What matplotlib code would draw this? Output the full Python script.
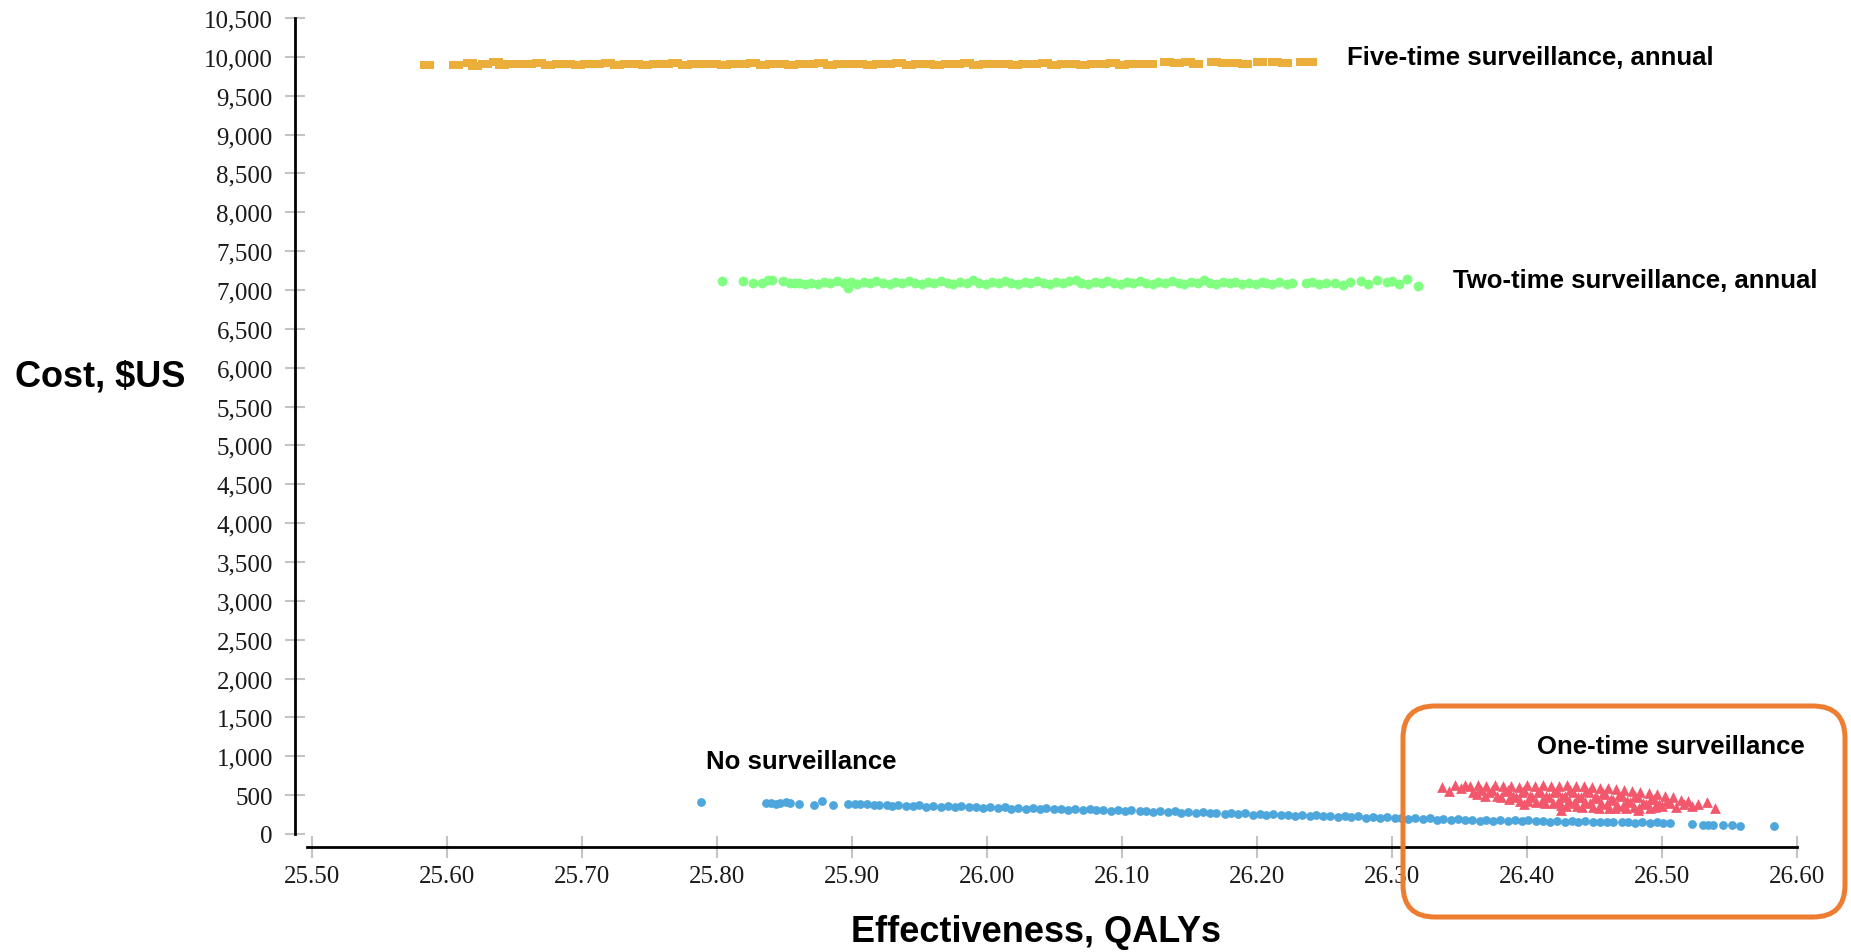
import matplotlib
matplotlib.use("Agg")
import matplotlib.pyplot as plt
from matplotlib.patches import FancyBboxPatch
from matplotlib.transforms import IdentityTransform
from matplotlib.ticker import FuncFormatter

# Puntos (QALYs, costo en $US)
five_x = [25.585, 25.607, 25.617, 25.621, 25.628, 25.636, 25.641, 25.646,
          25.654, 25.661, 25.668, 25.675, 25.683, 25.690, 25.697, 25.704, 25.711, 25.719,
          25.726, 25.733, 25.740, 25.747, 25.755, 25.762, 25.769, 25.776, 25.783, 25.791,
          25.798, 25.805, 25.812, 25.819, 25.827, 25.834, 25.841, 25.848, 25.855, 25.863,
          25.870, 25.877, 25.884, 25.891, 25.899, 25.906, 25.913, 25.920, 25.927, 25.935,
          25.942, 25.949, 25.956, 25.963, 25.971, 25.978, 25.985, 25.992, 25.999, 26.007,
          26.014, 26.021, 26.028, 26.035, 26.043, 26.050, 26.057, 26.064, 26.071, 26.079,
          26.086, 26.093, 26.100, 26.107, 26.115, 26.121,
          26.133, 26.141, 26.149, 26.155, 26.168, 26.176, 26.184, 26.191, 26.202, 26.213,
          26.221, 26.234, 26.239]
five_y = [9900, 9900, 9925, 9880, 9905, 9930, 9890, 9905,
          9910, 9905, 9915, 9900, 9910, 9905, 9898, 9912, 9905, 9915,
          9900, 9910, 9905, 9898, 9912, 9905, 9915, 9900, 9910, 9905,
          9912, 9900, 9910, 9905, 9915, 9900, 9910, 9905, 9898, 9912,
          9905, 9915, 9900, 9910, 9905, 9912, 9900, 9910, 9905, 9915,
          9900, 9910, 9905, 9898, 9912, 9905, 9915, 9900, 9910, 9905,
          9912, 9900, 9910, 9905, 9915, 9900, 9910, 9905, 9898, 9912,
          9905, 9915, 9900, 9910, 9905, 9912,
          9930, 9925, 9930, 9910, 9930, 9925, 9915, 9905, 9930, 9930,
          9925, 9930, 9930]

two_x = [25.804, 25.819, 25.827, 25.833, 25.838, 25.841, 25.849, 25.854, 25.858, 25.861,
         25.865, 25.870, 25.875, 25.879, 25.884, 25.889, 25.894, 25.897, 25.899, 25.904,
         25.909, 25.913, 25.918, 25.923, 25.928, 25.932, 25.937, 25.942, 25.947, 25.952,
         25.956, 25.961, 25.966, 25.971, 25.975, 25.980, 25.985, 25.990, 25.994, 25.999,
         26.004, 26.009, 26.013, 26.018, 26.023, 26.028, 26.032, 26.037, 26.042, 26.047,
         26.051, 26.056, 26.061, 26.066, 26.070, 26.075, 26.080, 26.085, 26.089, 26.094,
         26.099, 26.104, 26.108, 26.113, 26.118, 26.123, 26.127, 26.132, 26.137, 26.142,
         26.146, 26.151, 26.156, 26.161, 26.165, 26.170, 26.175, 26.180, 26.184, 26.189,
         26.194, 26.199, 26.204, 26.207,
         26.211, 26.216, 26.222, 26.226, 26.236, 26.241, 26.246, 26.251, 26.258, 26.264,
         26.269, 26.277, 26.282, 26.289, 26.296, 26.300, 26.305, 26.311, 26.319]
two_y = [7120, 7120, 7090, 7090, 7130, 7130, 7120, 7085, 7085, 7085,
         7075, 7095, 7080, 7105, 7085, 7110, 7090, 7030, 7100, 7080,
         7105, 7085, 7110, 7090, 7075, 7100, 7085, 7110, 7090, 7080,
         7105, 7085, 7110, 7090, 7075, 7100, 7085, 7130, 7095, 7080,
         7105, 7085, 7120, 7090, 7075, 7100, 7085, 7110, 7090, 7080,
         7105, 7085, 7110, 7130, 7090, 7080, 7105, 7085, 7110, 7090,
         7075, 7100, 7085, 7110, 7090, 7080, 7105, 7085, 7120, 7090,
         7075, 7100, 7085, 7130, 7090, 7080, 7105, 7085, 7100, 7075,
         7095, 7080, 7100, 7085,
         7080, 7100, 7075, 7090, 7085, 7105, 7075, 7095, 7090, 7070,
         7100, 7120, 7078, 7135, 7100, 7120, 7078, 7140, 7056]

none_x = [25.788, 25.836, 25.840, 25.844, 25.847, 25.851, 25.854, 25.861, 25.872, 25.878,
          25.886, 25.897, 25.902, 25.906, 25.911, 25.916, 25.920, 25.926, 25.930, 25.934,
          25.940, 25.945, 25.950, 25.955, 25.960, 25.966, 25.971, 25.976, 25.981, 25.987,
          25.992, 25.997, 26.002, 26.008, 26.013, 26.018, 26.023, 26.029, 26.034, 26.039,
          26.044, 26.050, 26.055, 26.060, 26.065, 26.071, 26.076, 26.081, 26.086, 26.092,
          26.097, 26.102, 26.107, 26.113, 26.118, 26.123, 26.128, 26.134, 26.139, 26.144,
          26.149, 26.155, 26.160, 26.165, 26.170, 26.176, 26.181, 26.186, 26.191, 26.197,
          26.202, 26.207, 26.212, 26.218, 26.223, 26.228, 26.233, 26.239, 26.244, 26.249,
          26.254, 26.260, 26.265, 26.270, 26.275, 26.281, 26.286, 26.291, 26.296, 26.302,
          26.307, 26.312, 26.317, 26.323, 26.328, 26.333, 26.338, 26.344, 26.349, 26.354,
          26.359, 26.365, 26.370, 26.375, 26.380, 26.386, 26.391, 26.396, 26.401, 26.407,
          26.412, 26.417, 26.422, 26.428, 26.433, 26.438, 26.443, 26.449, 26.454, 26.459,
          26.464, 26.470, 26.475, 26.480, 26.485, 26.491, 26.496, 26.501, 26.506,
          26.522, 26.530, 26.534, 26.538, 26.545, 26.552, 26.558, 26.583]
none_y = [408, 405, 395, 385, 398, 410, 400, 390, 373, 420,
          373, 385, 392, 380, 385, 375, 370, 375, 365, 370,
          364, 358, 368, 352, 362, 350, 358, 345, 355, 342,
          350, 338, 346, 332, 342, 328, 338, 322, 334, 318,
          330, 316, 326, 312, 322, 306, 318, 304, 314, 298,
          308, 294, 304, 290, 300, 284, 296, 280, 290, 276,
          286, 270, 280, 266, 274, 258, 270, 254, 264, 250,
          260, 246, 256, 240, 250, 236, 246, 232, 242, 226,
          236, 222, 232, 216, 226, 210, 220, 206, 214, 200,
          210, 196, 204, 190, 200, 186, 196, 182, 190, 176,
          186, 172, 182, 168, 176, 164, 174, 168, 176, 164,
          172, 160, 168, 158, 165, 154, 162, 152, 160, 150,
          157, 148, 155, 145, 152, 142, 149, 138, 145,
          125, 118, 122, 115, 112, 110, 108, 103]

one_x = [26.358, 26.360,
         26.364, 26.366, 26.363,
         26.370, 26.372, 26.369,
         26.376, 26.374, 26.378,
         26.382, 26.384, 26.381,
         26.388, 26.386, 26.390, 26.387,
         26.394, 26.396, 26.392, 26.395,
         26.400, 26.398, 26.402, 26.401,
         26.406, 26.408, 26.404, 26.407,
         26.412, 26.410, 26.414, 26.411, 26.413,
         26.418, 26.420, 26.416, 26.419,
         26.424, 26.422, 26.426, 26.423, 26.425,
         26.430, 26.432, 26.428, 26.431, 26.429,
         26.436, 26.434, 26.438, 26.435, 26.437,
         26.442, 26.444, 26.440, 26.443, 26.441,
         26.448, 26.446, 26.450, 26.447, 26.449,
         26.454, 26.456, 26.452, 26.455, 26.453,
         26.460, 26.458, 26.462, 26.459, 26.461,
         26.466, 26.468, 26.464, 26.467, 26.465,
         26.472, 26.470, 26.474, 26.471, 26.473,
         26.478, 26.480, 26.476, 26.479,
         26.484, 26.482, 26.486, 26.483,
         26.490, 26.492, 26.488, 26.491,
         26.496, 26.494, 26.498, 26.495,
         26.502, 26.504, 26.500,
         26.508, 26.506, 26.510,
         26.514, 26.516,
         26.337, 26.342, 26.347, 26.351, 26.354, 26.398, 26.425, 26.482,
         26.522, 26.527, 26.533, 26.539, 26.519]
one_y = [618, 545,
         625, 560, 510,
         612, 540, 495,
         628, 565, 490,
         615, 548, 478,
         622, 560, 495, 450,
         610, 540, 470, 430,
         625, 560, 490, 425,
         615, 545, 475, 410,
         628, 555, 485, 420, 395,
         612, 540, 470, 400,
         620, 550, 480, 410, 370,
         630, 560, 490, 420, 365,
         615, 545, 475, 405, 355,
         622, 552, 482, 412, 350,
         610, 540, 470, 400, 345,
         598, 530, 460, 395, 340,
         590, 520, 450, 385, 335,
         575, 505, 440, 375, 332,
         565, 495, 430, 365, 330,
         555, 485, 415, 345,
         540, 470, 405, 335,
         525, 455, 390, 338,
         510, 445, 380, 342,
         495, 430, 365,
         470, 400, 350,
         440, 380,
         601, 557, 630, 598, 632, 386, 313, 310,
         355, 390, 411, 330, 425]

x_ticks = [25.50, 25.60, 25.70, 25.80, 25.90, 26.00, 26.10, 26.20, 26.30, 26.40, 26.50, 26.60]
y_ticks = list(range(0, 10501, 500))

etiquetas = [("Five-time surveillance, annual", 26.267, 9995),
             ("Two-time surveillance, annual", 26.345, 7125),
             ("One-time surveillance", 26.4075, 1130),
             ("No surveillance", 25.7916, 940)]

# Colores de cada estrategia
c_five = "#EBAE3B"
c_two = "#80FF80"
c_none = "#4DA6DC"
c_one = "#F2576B"

W, H = 1851, 953
fig = plt.figure(figsize=(W / 100, H / 100), dpi=100)
ax = fig.add_axes([295 / W, (H - 848) / H, 1505 / W, (848 - 19) / H])
ax.set_xlim(25.5 - 17 / 1351, 26.6 + 3 / 1351)
ax.set_ylim(-13 / 0.07771, 10500)

rect = [(-1.7, -1), (1.7, -1), (1.7, 1), (-1.7, 1), (-1.7, -1)]
ax.scatter(five_x, five_y, s=95, marker=rect, color=c_five, linewidths=0)
ax.scatter(two_x, two_y, s=50, marker="o", color=c_two, linewidths=0)
ax.scatter(none_x, none_y, s=40, marker="o", color=c_none, linewidths=0)
ax.scatter(one_x, one_y, s=60, marker="^", color=c_one, linewidths=0)

for spine in ["top", "right"]:
    ax.spines[spine].set_visible(False)
ax.spines["left"].set_bounds(0, 10500)
ax.spines["bottom"].set_bounds(25.496, 26.6)
ax.spines["left"].set_linewidth(2)
ax.spines["bottom"].set_linewidth(2)

ax.set_xticks(x_ticks)
ax.set_yticks(y_ticks)
ax.xaxis.set_major_formatter(FuncFormatter(lambda v, p: f"{v:.2f}"))
ax.yaxis.set_major_formatter(FuncFormatter(lambda v, p: f"{int(v):,}"))
ax.tick_params(axis="y", direction="inout", length=15, width=1.5, color="#C4C4C4",
               pad=8.5, labelsize=18, labelcolor="#1a1a1a")
ax.tick_params(axis="x", direction="inout", length=16.5, width=1.5, color="#C4C4C4",
               pad=5, labelsize=18, labelcolor="#1a1a1a")
for lab in ax.get_xticklabels() + ax.get_yticklabels():
    lab.set_fontfamily("Liberation Serif")

for texto, x, y in etiquetas:
    ax.text(x, y, texto, ha="left", va="center", fontsize=18.5, fontweight="bold",
            family="Liberation Sans")

fig.text(15 / W, (H - 377) / H, "Cost, $US", ha="left", va="center", fontsize=26,
         fontweight="bold", family="Liberation Sans")
fig.text(1036 / W, (H - 933) / H, "Effectiveness, QALYs", ha="center", va="center",
         fontsize=26, fontweight="bold", family="Liberation Sans")

# Recuadro naranja alrededor de la estrategia de una vez
caja = FancyBboxPatch((1403, 35), 442, 211, boxstyle="round,pad=0,rounding_size=32",
                      transform=IdentityTransform(), fill=False, edgecolor="#ED7D31",
                      linewidth=3.6)
fig.add_artist(caja)

fig.savefig("out.png", dpi=100)
